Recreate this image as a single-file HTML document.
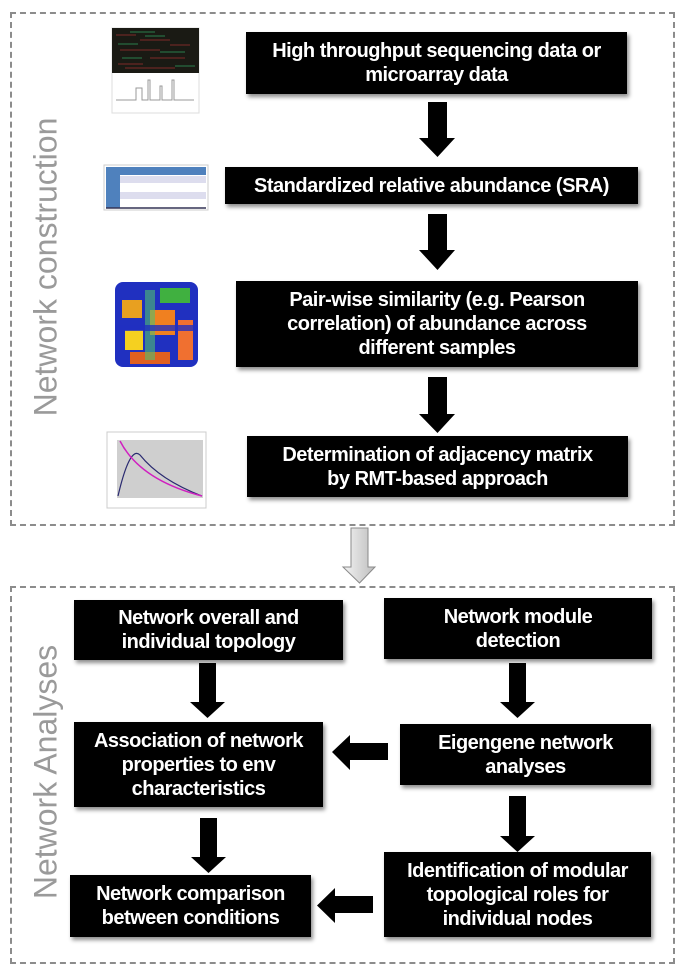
<!DOCTYPE html>
<html><head><meta charset="utf-8"><style>
body{margin:0;width:685px;height:977px;background:#fff;position:relative;overflow:hidden;font-family:"Liberation Sans",Arial,sans-serif}
.dash{position:absolute;border:2px dashed #8c8c8c;box-sizing:border-box}
.b{position:absolute;background:#000;color:#fff;font-weight:bold;font-size:20px;line-height:24px;text-align:center;display:flex;align-items:center;justify-content:center;box-shadow:2px 3px 4px rgba(0,0,0,.45);box-sizing:border-box;padding:0 4px;letter-spacing:-0.5px}
.lab{position:absolute;color:#9a9a9a;font-size:32px;white-space:nowrap;transform:translate(-50%,-50%) rotate(-90deg)}
svg{position:absolute;left:0;top:0}
</style></head><body>
<div class="dash" style="left:10px;top:12px;width:665px;height:514px"></div>
<div class="dash" style="left:10px;top:586px;width:665px;height:378px"></div>
<div class="lab" style="left:46px;top:267px">Network construction</div>
<div class="lab" style="left:46px;top:772px">Network Analyses</div>

<div class="b" style="left:246px;top:32px;width:381px;height:62px">High throughput sequencing data or<br>microarray data</div>
<div class="b" style="left:225px;top:167px;width:413px;height:37px">Standardized relative abundance (SRA)</div>
<div class="b" style="left:236px;top:281px;width:402px;height:86px">Pair-wise similarity (e.g. Pearson<br>correlation) of abundance across<br>different samples</div>
<div class="b" style="left:247px;top:436px;width:381px;height:61px">Determination of adjacency matrix<br>by RMT-based approach</div>

<div class="b" style="left:74px;top:600px;width:269px;height:60px">Network overall and<br>individual topology</div>
<div class="b" style="left:384px;top:598px;width:268px;height:61px">Network module<br>detection</div>
<div class="b" style="left:74px;top:722px;width:249px;height:85px">Association of network<br>properties to env<br>characteristics</div>
<div class="b" style="left:400px;top:724px;width:251px;height:61px">Eigengene network<br>analyses</div>
<div class="b" style="left:70px;top:875px;width:241px;height:62px">Network comparison<br>between conditions</div>
<div class="b" style="left:384px;top:852px;width:267px;height:85px">Identification of modular<br>topological roles for<br>individual nodes</div>

<svg width="685" height="977">
<g fill="#000">
<polygon points="428,102 447,102 447,138 455,138 437.5,157 419,138 428,138"/>
<polygon points="428,214 447,214 447,250 455,250 437.5,270 419,250 428,250"/>
<polygon points="428,377 447,377 447,414 455,414 437.5,433 419,414 428,414"/>
<polygon points="199,663 216,663 216,702 225,702 207.5,718 190,702 199,702"/>
<polygon points="509,663 526,663 526,702 535,702 517.5,718 500,702 509,702"/>
<polygon points="200,818 217,818 217,857 226,857 208.5,873 191,857 200,857"/>
<polygon points="509,796 526,796 526,836 535,836 517.5,852 500,836 509,836"/>
<polygon points="388,743 388,760 350,760 350,770 332,752 350,735 350,743"/>
<polygon points="373,896 373,913 335,913 335,923 317,905.5 335,888 335,896"/>
</g>
<defs><linearGradient id="g" x1="0" x2="1"><stop offset="0" stop-color="#f4f4f4"/><stop offset="1" stop-color="#bdbdbd"/></linearGradient></defs>
<polygon points="351,528 368,528 368,567 375,567 359.5,583 343,567 351,567" fill="url(#g)" stroke="#8a8a8a" stroke-width="1"/>

<rect x="112" y="28" width="87" height="85" fill="#fff" stroke="#ddd"/>
<rect x="112" y="28" width="87" height="45" fill="#1a1a14"/>
<g stroke-width="1" opacity=".7">
<path d="M116 35h20M140 40h30M120 50h40M150 58h35M118 64h25M170 45h20M125 68h50" stroke="#a33"/>
<path d="M130 32h25M118 44h20M160 52h25M122 58h20M175 66h20M145 36h20" stroke="#3a6"/>
</g>
<path d="M116 100h20v-12h6v12h6v-20h2v20h10v-14h2v14h10v-20h2v20h20" stroke="#999" fill="none"/>
<rect x="104" y="165" width="104" height="45" fill="#fff" stroke="#ccc"/>
<rect x="106" y="167" width="100" height="8" fill="#4f81bd"/>
<rect x="106" y="175" width="14" height="33" fill="#4f81bd"/>
<rect x="120" y="176" width="86" height="7" fill="#dde"/>
<rect x="120" y="192" width="86" height="7" fill="#dde"/>
<line x1="106" y1="208" x2="206" y2="208" stroke="#335" stroke-width="1.5"/>
<rect x="115" y="282" width="83" height="85" rx="8" fill="#2030c0"/>
<rect x="122" y="300" width="20" height="18" fill="#e8a020"/>
<rect x="150" y="310" width="25" height="25" fill="#f08020"/>
<rect x="125" y="330" width="18" height="20" fill="#f5d020"/>
<rect x="160" y="288" width="30" height="15" fill="#40b040"/>
<rect x="178" y="320" width="15" height="40" fill="#f07030"/>
<rect x="130" y="352" width="40" height="12" fill="#e06020"/>
<rect x="145" y="290" width="10" height="70" fill="#50c070" opacity=".6"/>
<rect x="115" y="325" width="83" height="6" fill="#2030c0" opacity=".8"/>
<rect x="107" y="432" width="99" height="76" fill="#fff" stroke="#ccc"/>
<rect x="117" y="440" width="86" height="58" fill="#cfcfcf"/>
<path d="M118 496Q130 445 140 455Q160 480 202 496" stroke="#2a2a70" fill="none" stroke-width="1.2"/>
<path d="M120 441Q140 480 202 496" stroke="#d020c0" fill="none" stroke-width="1.5"/>
</svg>
</body></html>
